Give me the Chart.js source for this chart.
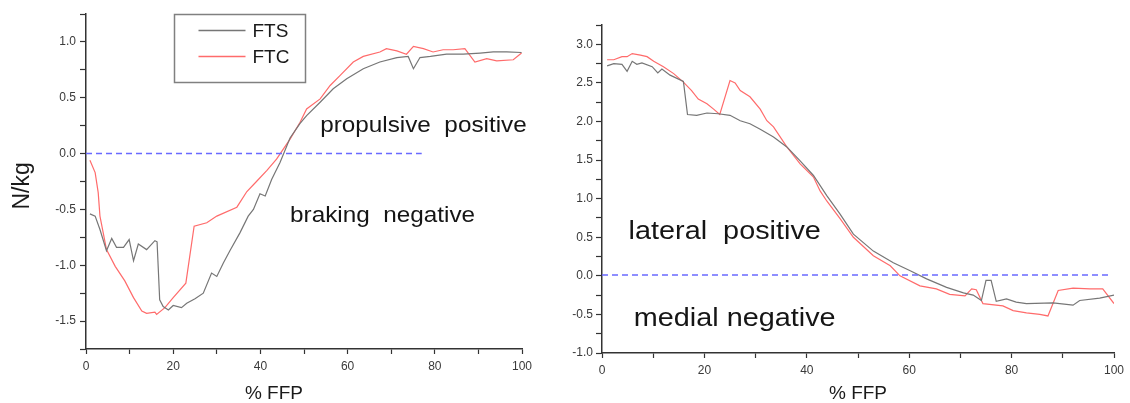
<!DOCTYPE html>
<html>
<head>
<meta charset="utf-8">
<script src="https://cdn.jsdelivr.net/npm/chart.js"></script>
<style>
  html, body { margin: 0; padding: 0; background: #fff; }
  #wrap { position: relative; width: 1130px; height: 403px; }
  canvas { position: absolute; top: 0; }
  #apChart { left: 0; }
  #mlChart { left: 560px; }
</style>
</head>
<body>
<div id="wrap">
  <canvas id="apChart" width="560" height="403"></canvas>
  <canvas id="mlChart" width="570" height="403"></canvas>
</div>
<script>
// series names
const seriesNames = ["FTS", "FTC"];

// left panel: anterior-posterior force (N/kg) against % FFP
const apFtsX = [0.9, 2.1, 3.2, 4.7, 5.9, 7.0, 8.6, 9.9, 10.9, 12.0, 13.9, 15.8, 16.3, 16.9, 17.7, 18.9, 20.0, 21.9, 23.1, 25.0,
                26.9, 28.8, 30.0, 31.5, 33.0, 35.3, 37.2, 38.4, 39.9, 41.1, 42.6, 44.5, 46.8, 49.1, 50.6, 53.7, 56.7, 59.8, 63.6, 67.4,
                71.3, 73.9, 75.1, 76.6, 79.0, 82.7, 86.5, 90.4, 93.4, 96.5, 99.9];
const apFtsY = [-0.54, -0.56, -0.68, -0.87, -0.76, -0.84, -0.84, -0.77, -0.96, -0.81, -0.86, -0.78, -0.79, -1.31, -1.37, -1.40, -1.36, -1.38, -1.34, -1.30,
                -1.25, -1.07, -1.10, -0.98, -0.87, -0.71, -0.56, -0.50, -0.36, -0.38, -0.23, -0.08, 0.14, 0.27, 0.34, 0.46, 0.58, 0.67, 0.76, 0.82,
                0.86, 0.87, 0.76, 0.86, 0.87, 0.89, 0.89, 0.90, 0.91, 0.91, 0.905];
const apFtcX = [0.9, 2.1, 2.8, 3.2, 4.7, 6.7, 8.9, 10.9, 12.8, 13.9, 15.8, 16.2, 18.1, 20.0, 22.9, 24.8, 27.7, 30.0, 34.6, 36.9,
                39.1, 41.5, 43.7, 46.8, 49.1, 50.6, 53.7, 56.0, 58.3, 61.3, 63.6, 67.4, 68.9, 71.3, 73.5, 75.1, 77.4, 79.6, 81.9, 84.2,
                86.9, 89.2, 91.9, 94.2, 98.0, 99.9];
const apFtcY = [-0.06, -0.17, -0.35, -0.56, -0.86, -1.01, -1.14, -1.29, -1.41, -1.43, -1.42, -1.44, -1.38, -1.29, -1.16, -0.65, -0.62, -0.56, -0.48, -0.34,
                -0.25, -0.15, -0.05, 0.13, 0.28, 0.40, 0.49, 0.61, 0.70, 0.82, 0.87, 0.91, 0.94, 0.92, 0.89, 0.96, 0.94, 0.91, 0.93, 0.93,
                0.94, 0.82, 0.85, 0.83, 0.84, 0.90];
const apZeroX = [0, 77];
const apZeroY = [0, 0];

// right panel: medial-lateral force (N/kg) against % FFP
const mlFtsX = [1.0, 2.3, 3.9, 4.9, 5.9, 6.8, 7.8, 9.8, 10.9, 11.7, 13.3, 15.9, 16.7, 18.5, 20.5, 22.7, 25.0, 27.0, 28.9, 30.9,
                33.5, 36.1, 38.7, 41.3, 43.9, 46.5, 49.1, 53.0, 56.9, 60.2, 63.4, 67.3, 70.6, 72.5, 74.1, 75.0, 76.0, 77.0, 79.0, 80.9,
                82.9, 88.1, 92.0, 93.3, 97.2, 100];
const mlFtsY = [2.72, 2.75, 2.74, 2.65, 2.78, 2.74, 2.76, 2.71, 2.63, 2.68, 2.60, 2.52, 2.09, 2.08, 2.11, 2.10, 2.08, 2.01, 1.97, 1.90,
                1.80, 1.67, 1.49, 1.30, 1.04, 0.80, 0.54, 0.32, 0.17, 0.065, -0.04, -0.15, -0.22, -0.25, -0.32, -0.06, -0.06, -0.33, -0.30, -0.34,
                -0.36, -0.35, -0.38, -0.32, -0.29, -0.25];
const mlFtcX = [1.0, 2.3, 3.9, 4.9, 5.9, 7.5, 8.8, 10.1, 12.0, 14.0, 15.9, 17.5, 18.8, 20.5, 21.8, 23.0, 25.0, 26.0, 27.0, 28.9,
                30.9, 32.2, 33.5, 36.1, 38.7, 41.3, 42.6, 43.9, 46.5, 49.1, 53.0, 56.3, 58.2, 62.1, 65.3, 67.9, 70.9, 72.2, 73.1, 74.4,
                78.3, 80.3, 82.9, 85.5, 87.1, 89.1, 92.0, 95.3, 97.8, 100];
const mlFtcY = [2.80, 2.80, 2.84, 2.84, 2.88, 2.86, 2.84, 2.78, 2.71, 2.62, 2.51, 2.40, 2.29, 2.23, 2.16, 2.09, 2.53, 2.50, 2.40, 2.32,
                2.16, 2.01, 1.93, 1.67, 1.45, 1.28, 1.10, 0.97, 0.74, 0.50, 0.26, 0.13, 0.0, -0.13, -0.17, -0.24, -0.26, -0.17, -0.18, -0.36,
                -0.39, -0.45, -0.48, -0.50, -0.52, -0.19, -0.16, -0.17, -0.17, -0.36];
const mlZeroX = [0, 99];
const mlZeroY = [0.01, 0.01];

// tick labels
const xTickLabels = [0, 20, 40, 60, 80, 100];
const apYTickLabels = [-1.5, -1.0, -0.5, 0.0, 0.5, 1.0];
const mlYTickLabels = [-1.0, -0.5, 0.0, 0.5, 1.0, 1.5, 2.0, 2.5, 3.0];

const FONT = "'Liberation Sans', Arial, sans-serif";
const GRAY = "#767676";
const RED = "#ff6b6b";
const BLUE = "#6a6aff";

function line(xs, ys, color, label, dash) {
    return {
        label: label,
        data: xs.map((x, i) => ({ x: x, y: ys[i] })),
        borderColor: color,
        borderWidth: dash ? 1.5 : 1.2,
        borderDash: dash || [],
        pointRadius: 0,
        tension: 0,
        fill: false
    };
}

// only some of the tick marks get a label
function labelIf(list, digits) {
    return function (value) {
        const hit = list.find(v => Math.abs(v - value) < 1e-6);
        return hit === undefined ? "" : hit.toFixed(digits);
    };
}

// free text placed at data coordinates
function makeNotes(items, size, stretch) {
    return {
        id: "notes",
        afterDatasetsDraw(chart) {
            const ctx = chart.ctx;
            ctx.save();
            ctx.font = size + "px " + FONT;
            ctx.fillStyle = "#151515";
            ctx.textBaseline = "middle";
            ctx.textAlign = "left";
            items.forEach(n => {
                const px = chart.scales.x.getPixelForValue(n.x);
                const py = chart.scales.y.getPixelForValue(n.y);
                ctx.save();
                ctx.translate(px, py);
                ctx.scale(stretch, 1);
                ctx.fillText(n.text, 0, 0);
                ctx.restore();
            });
            ctx.restore();
        }
    };
}

// axis titles: x title under the axis, optional rotated y title
function makeTitles(cfg) {
    return {
        id: "titles",
        afterDraw(chart) {
            const ctx = chart.ctx;
            const area = chart.chartArea;
            ctx.save();
            ctx.fillStyle = "#1a1a1a";
            ctx.textAlign = "center";
            ctx.textBaseline = "middle";
            ctx.font = "19px " + FONT;
            ctx.fillText(cfg.xText, chart.scales.x.getPixelForValue(cfg.xAt), area.bottom + cfg.xGap);
            if (cfg.yText) {
                ctx.translate(area.left - cfg.yGap, chart.scales.y.getPixelForValue(cfg.yAt));
                ctx.rotate(-Math.PI / 2);
                ctx.font = "23px " + FONT;
                ctx.fillText(cfg.yText, 0, 0);
            }
            ctx.restore();
        }
    };
}

// framed legend in the upper part of the left panel
function makeLegendBox(box) {
    return {
        id: "legendBox",
        afterDraw(chart) {
            const ctx = chart.ctx;
            ctx.save();
            ctx.strokeStyle = "#808080";
            ctx.lineWidth = 1.5;
            ctx.strokeRect(box.left, box.top, box.width, box.height);
            ctx.font = "19px " + FONT;
            ctx.fillStyle = "#1a1a1a";
            ctx.textBaseline = "middle";
            ctx.textAlign = "left";
            chart.data.datasets.filter(d => d.label).forEach((d, i) => {
                const y = box.top + box.rowStart + i * box.rowGap;
                ctx.strokeStyle = d.borderColor;
                ctx.lineWidth = 1.5;
                ctx.beginPath();
                ctx.moveTo(box.left + 24, y);
                ctx.lineTo(box.left + 71, y);
                ctx.stroke();
                ctx.fillText(d.label, box.left + 78, y + 1);
            });
            ctx.restore();
        }
    };
}

function buildOptions(cfg) {
    return {
        responsive: false,
        animation: false,
        events: [],
        layout: { padding: cfg.padding },
        plugins: { legend: { display: false }, tooltip: { enabled: false } },
        scales: {
            x: {
                type: "linear",
                min: 0,
                max: 100,
                afterFit: s => { s.height = cfg.xHeight; },
                ticks: {
                    stepSize: 10,
                    autoSkip: false,
                    maxRotation: 0,
                    padding: 5,
                    color: "#3a3a3a",
                    font: { family: FONT, size: 12 },
                    callback: labelIf(xTickLabels, 0)
                },
                grid: { drawOnChartArea: false, tickLength: 5, tickColor: "#333", tickWidth: 1.2 },
                border: { color: "#333", width: 1.5 }
            },
            y: {
                type: "linear",
                min: cfg.yMin,
                max: cfg.yMax,
                afterFit: s => { s.width = cfg.yWidth; },
                ticks: {
                    stepSize: 0.25,
                    autoSkip: false,
                    padding: cfg.yPad,
                    color: "#3a3a3a",
                    font: { family: FONT, size: 12 },
                    callback: labelIf(cfg.yTicks, 1)
                },
                grid: { drawOnChartArea: false, tickLength: 6, tickColor: "#333", tickWidth: 1.2 },
                border: { color: "#333", width: 1.5 }
            }
        }
    };
}

new Chart(document.getElementById("apChart"), {
    type: "line",
    data: {
        datasets: [
            line(apZeroX, apZeroY, BLUE, "", [6, 4]),
            line(apFtsX, apFtsY, GRAY, seriesNames[0]),
            line(apFtcX, apFtcY, RED, seriesNames[1])
        ]
    },
    options: buildOptions({
        padding: { left: 0, top: 14, right: 38, bottom: 0 },
        xHeight: 54, yWidth: 86, yPad: 4,
        yMin: -1.75, yMax: 1.25, yTicks: apYTickLabels
    }),
    plugins: [
        makeNotes([
            { text: "propulsive  positive", x: 53.7, y: 0.25 },
            { text: "braking  negative", x: 46.8, y: -0.56 }
        ], 21.5, 1.13),
        makeTitles({ xText: "% FFP", xAt: 43.1, xGap: 45, yText: "N/kg", yAt: -0.29, yGap: 63 }),
        makeLegendBox({ left: 174.5, top: 14.5, width: 131, height: 68, rowStart: 16, rowGap: 26 })
    ]
});

new Chart(document.getElementById("mlChart"), {
    type: "line",
    data: {
        datasets: [
            line(mlZeroX, mlZeroY, BLUE, "", [6, 4]),
            line(mlFtsX, mlFtsY, GRAY, seriesNames[0]),
            line(mlFtcX, mlFtcY, RED, seriesNames[1])
        ]
    },
    options: buildOptions({
        padding: { left: 0, top: 25, right: 16, bottom: 0 },
        xHeight: 50, yWidth: 42, yPad: 3,
        yMin: -1.0, yMax: 3.25, yTicks: mlYTickLabels
    }),
    plugins: [
        makeNotes([
            { text: "lateral  positive", x: 5.2, y: 0.57 },
            { text: "medial negative", x: 6.2, y: -0.56 }
        ], 25.5, 1.13),
        makeTitles({ xText: "% FFP", xAt: 50, xGap: 41 })
    ]
});
</script>
</body>
</html>
